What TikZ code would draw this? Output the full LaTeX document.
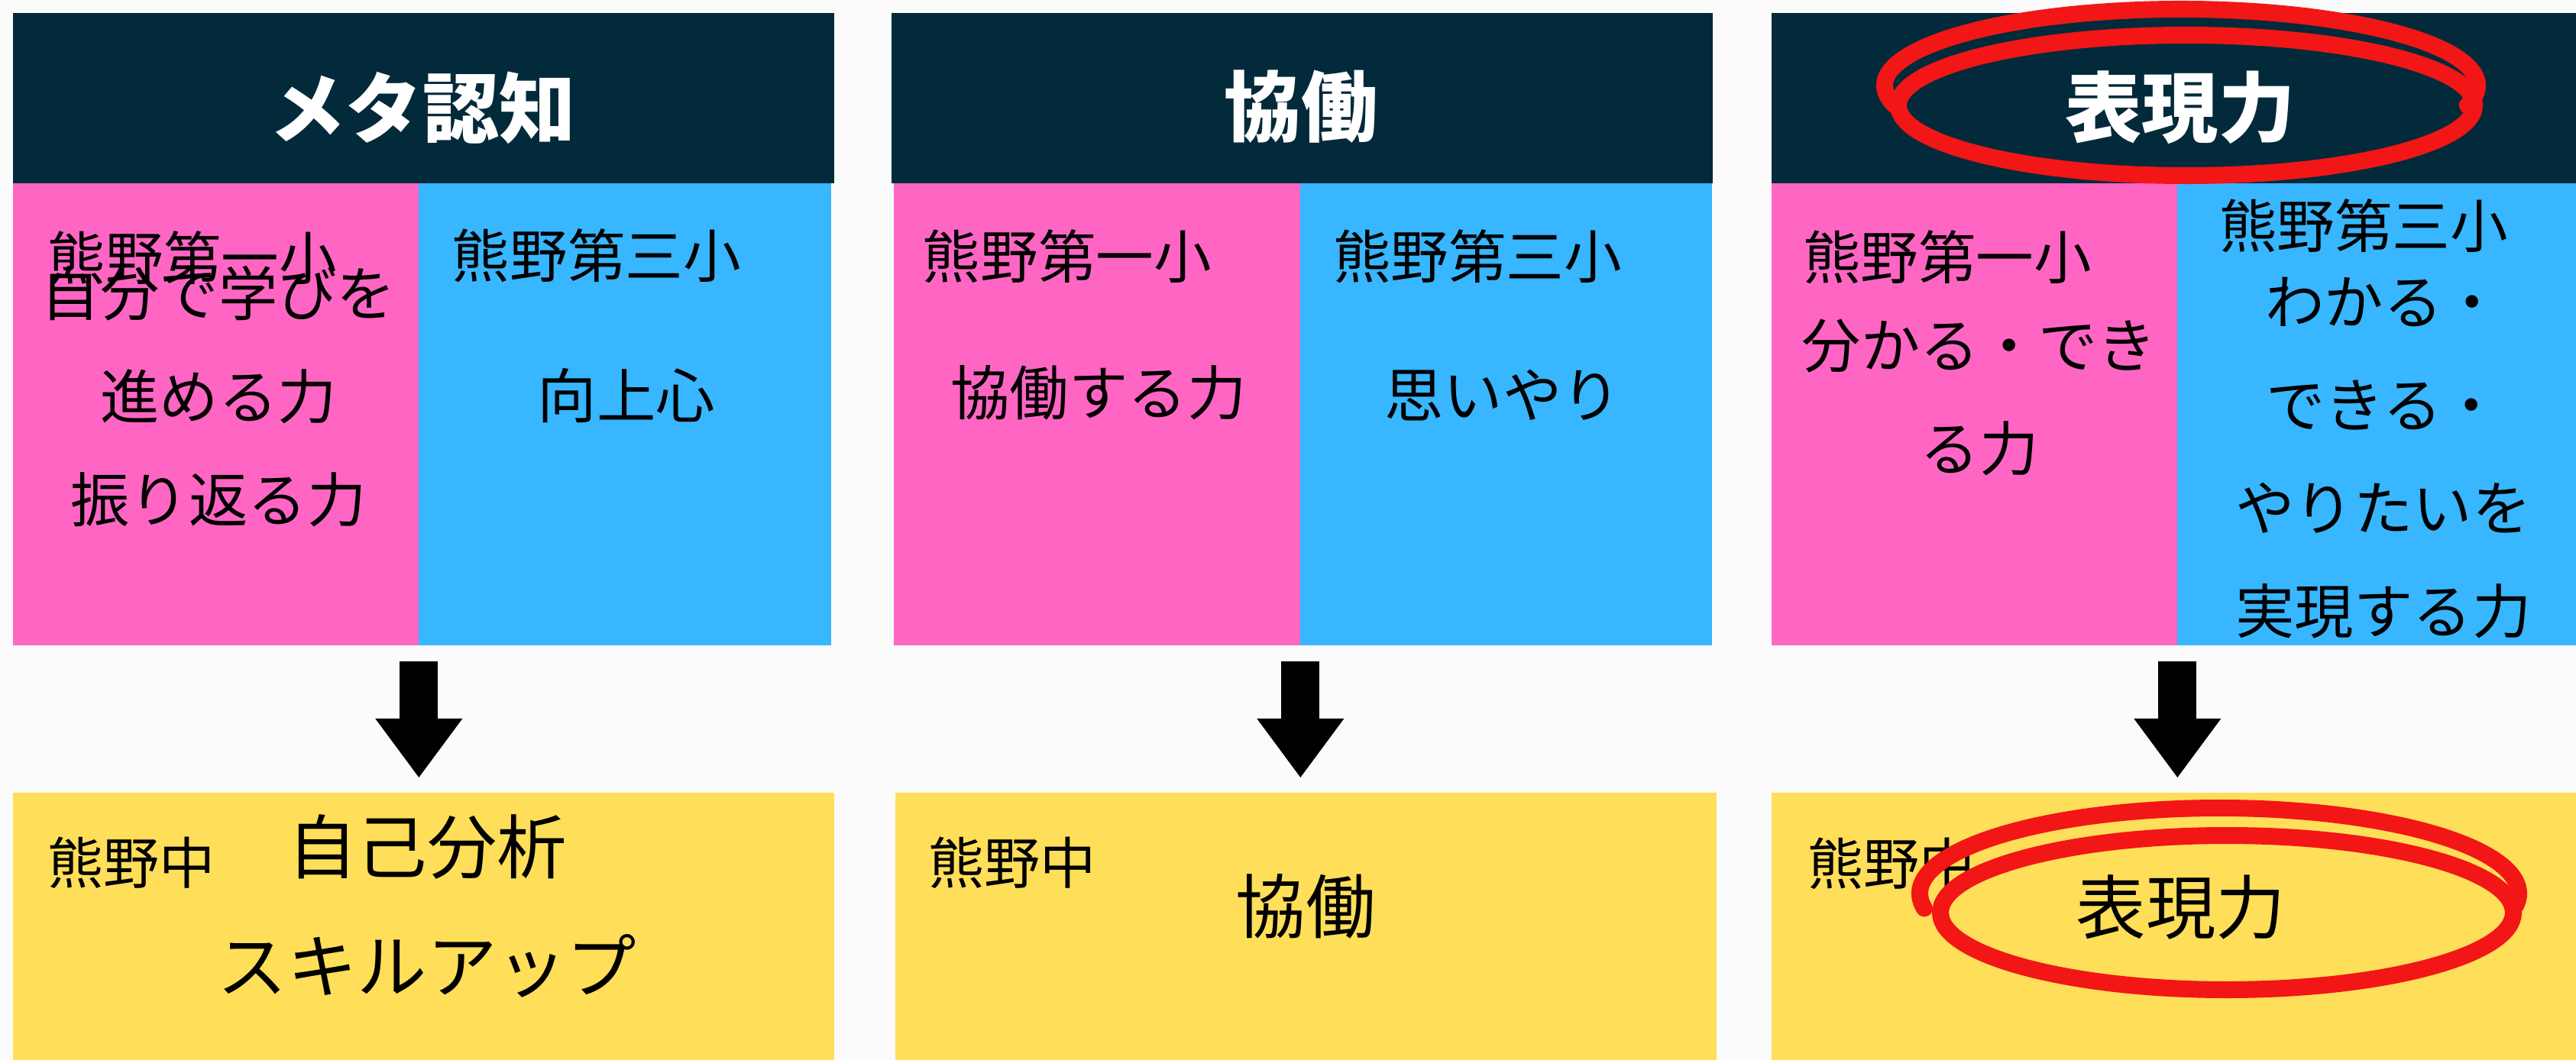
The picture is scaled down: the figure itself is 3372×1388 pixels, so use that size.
\documentclass[tikz,border=0pt]{standalone}
\usepackage{fontspec}
\setmainfont{Noto Sans CJK JP}
\usetikzlibrary{arrows.meta,positioning}

\definecolor{hdrcol}{HTML}{032A3A}
\definecolor{pinkcol}{HTML}{FF66C4}
\definecolor{bluecol}{HTML}{38B6FF}
\definecolor{yelcol}{HTML}{FFDE59}
\definecolor{markred}{HTML}{F21616}
\definecolor{bgcol}{HTML}{FBFBFB}

\begin{document}
\begin{tikzpicture}[x=0.01cm, y=-0.01cm,
  box/.style={rectangle, inner sep=0, outer sep=0, anchor=north west},
  hdr/.style={box, fill=hdrcol, minimum height=2.23cm},
  col/.style={box, minimum height=6.05cm},
  yel/.style={box, fill=yelcol, minimum height=3.5cm},
  hdrtxt/.style={inner sep=0, text=white, font=\fontsize{28.5}{30}\selectfont\bfseries},
  school/.style={inner sep=0, font=\fontsize{21.5}{26}\selectfont},
  body/.style={inner sep=0, align=center, font=\fontsize{22}{38.4}\selectfont},
  jhs/.style={inner sep=0, font=\fontsize{20.8}{24}\selectfont},
  big/.style={inner sep=0, align=center, font=\fontsize{26}{44.4}\selectfont},
  downarrow/.style={line width=0.5cm, -{Triangle[length=0.77cm, width=1.14cm, line width=0pt]},
    shorten <=0.21cm, shorten >=0.2cm},
  redmark/.style={draw=markred, line width=0.22cm, line cap=round}]

\useasboundingbox (0,0) rectangle (3372,1388);
\fill[bgcol] (0,0) rectangle (3372,1388);

% メタ認知
\node[hdr, minimum width=10.74cm] (h1) at (17,17) {};
\node[col, fill=pinkcol, minimum width=5.31cm] (p1) at (17,240) {};
\node[col, fill=bluecol, minimum width=5.40cm] (q1) at (548,240) {};
\node[yel, minimum width=10.74cm] (y1) at (17,1038) {};
\node[hdrtxt] (t1) at (553,141) {メタ認知};
\node[school] (s11) at (252,338) {熊野第一小};
\node[body] (b11) at (286,519) {自分で学びを\\進める力\\振り返る力};
\node[school] (s13) at (781,335) {熊野第三小};
\node[body] (b13) at (820,518) {向上心};
\node[jhs] (j1) at (172,1130) {熊野中};
\node[big] (g1) at (559,1186) {自己分析\\スキルアップ};

% 協働
\node[hdr, minimum width=10.74cm] (h2) at (1167,17) {};
\node[col, fill=pinkcol, minimum width=5.32cm] (p2) at (1170,240) {};
\node[col, fill=bluecol, minimum width=5.39cm] (q2) at (1702,240) {};
\node[yel, minimum width=10.74cm] (y2) at (1172,1038) {};
\node[hdrtxt] (t2) at (1703,140) {協働};
\node[school] (s21) at (1397,336) {熊野第一小};
\node[body] (b21) at (1438,514) {協働する力};
\node[school] (s23) at (1934,336) {熊野第三小};
\node[body] (b23) at (1967,518) {思いやり};
\node[jhs] (j2) at (1325,1130) {熊野中};
\node[big] (g2) at (1709,1187) {協働};

% 表現力
\node[hdr, minimum width=10.53cm] (h3) at (2319,17) {};
\node[col, fill=pinkcol, minimum width=5.31cm] (p3) at (2319,240) {};
\node[col, fill=bluecol, minimum width=5.22cm] (q3) at (2850,240) {};
\node[yel, minimum width=10.53cm] (y3) at (2319,1038) {};
\node[hdrtxt] (t3) at (2854,141) {表現力};
\node[school] (s31) at (2549,337) {熊野第一小};
\node[body] (b31) at (2591,520) {分かる・でき\\る力};
\node[school] (s33) at (3094,296) {熊野第三小};
\node[body] (b33) at (3120,600) {わかる・\\できる・\\やりたいを\\実現する力};
\node[jhs] (j3) at (2476,1131) {熊野中};
\node[big] (g3) at (2855,1188) {表現力};

% 矢印
\draw[downarrow] (p1.south east) -- (p1.south east |- y1.north);
\draw[downarrow] (p2.south east) -- (p2.south east |- y2.north);
\draw[downarrow] (p3.south east) -- (p3.south east |- y3.north);

% 赤丸
\draw[redmark] (2862,138) ellipse [x radius=377, y radius=92];
\draw[redmark] (2855,112) ++(165:388 and 100) arc [start angle=165, end angle=375, x radius=388, y radius=100];
\draw[redmark] (2915,1195) ellipse [x radius=375, y radius=101];
\draw[redmark] (2905,1170) ++(170:392 and 112) arc [start angle=170, end angle=368, x radius=392, y radius=112];
\end{tikzpicture}
\end{document}
